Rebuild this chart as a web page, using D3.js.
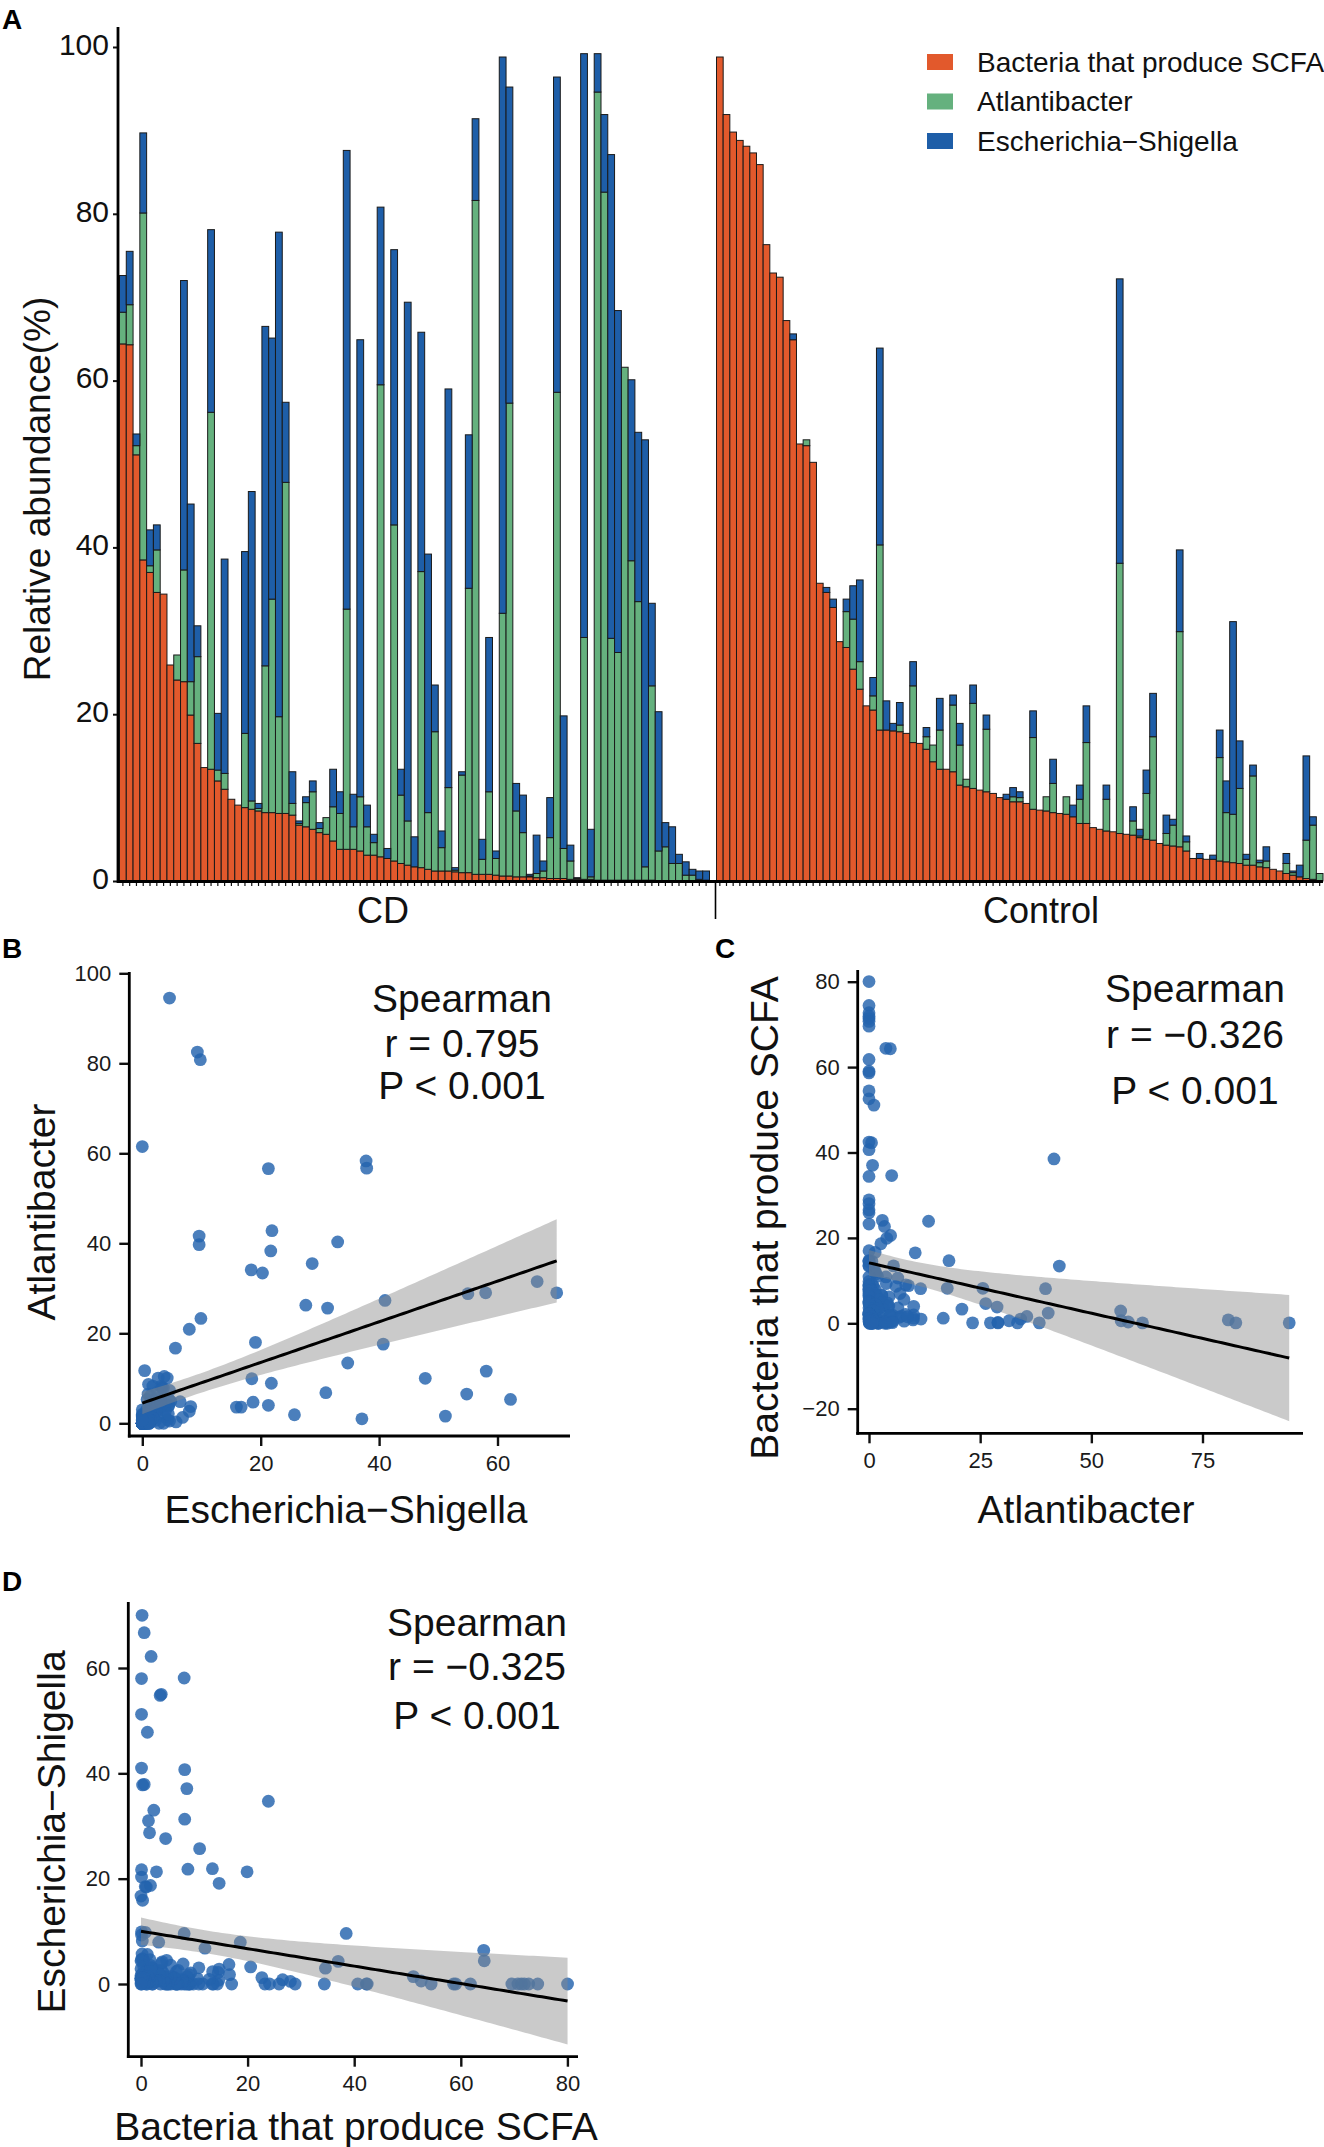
<!DOCTYPE html>
<html>
<head>
<meta charset="utf-8">
<script src="https://cdn.jsdelivr.net/npm/d3@7"></script>
<style>
  body { margin: 0; background: #fff; }
  svg { display: block; }
  text { font-family: "Liberation Sans", Arial, Helvetica, sans-serif; }
</style>
</head>
<body>
<svg id="fig" width="1324" height="2147"></svg>
<script>
// ---- data: per-sample relative abundance (%) as drawn in the stacked bars
const cdScfa = [64.4,64.3,51.1,38.5,37.0,34.6,34.4,25.9,24.1,23.9, 19.9,16.5,13.6,13.4,12.0,11.0,9.8,9.1,8.8,8.6,
  8.4,8.2,8.2,8.1,8.1,7.9,6.7,6.5,6.2,5.8, 5.6,4.8,3.8,3.8,3.8,3.6,3.1,3.1,2.9,2.7,
  2.4,2.1,1.9,1.7,1.6,1.4,1.2,1.2,1.2,1.1, 1.0,1.0,0.8,0.8,0.8,0.7,0.6,0.6,0.5,0.5,
  0.5,0.4,0.4,0.3,0.3,0.3,0.2,0.2,0.2,0.2, 0.1,0.1,0.1,0.1,0.1,0.1,0.1,0.1,0.1,0,
  0,0,0,0,0,0,0];
const cdAtl = [3.8,4.8,1.1,41.6,0.8,5.1,0,0,3.0,13.4, 4.0,10.4,0,42.8,1.3,1.9,0,0,8.9,1.0,
  0.3,17.6,25.6,11.6,39.7,1.4,0.2,2.9,4.5,0.5, 2.0,4.1,4.3,28.8,2.7,6.5,3.4,1.5,56.6,0,
  40.3,8.2,5.3,0,35.5,6.8,16.7,2.8,10.0,0.2, 11.7,34.1,80.8,1.8,9.9,2.0,31.5,56.7,7.9,5.3,
  0.1,0.5,0.8,4.9,58.3,3.6,2.2,0.1,29.0,0.3, 94.5,82.5,29.0,27.3,61.5,38.3,33.4,1.6,23.3,3.6,
  4.1,2.1,2.1,0.7,0.7,0.2,0.1];
const cdEsch = [4.4,6.4,1.4,9.6,4.3,3.0,0,0,0,34.7, 21.3,3.7,0,21.9,6.8,25.7,0,0,21.8,37.1,
  0.6,40.7,31.3,58.1,9.6,3.8,0.3,0.7,1.3,0.7, 0,4.5,2.6,55.0,3.9,54.8,2.6,1.0,21.3,1.2,
  33.0,3.1,62.2,3.6,28.7,31.0,5.6,2.0,47.8,0.3, 0.4,18.4,9.8,2.4,18.5,0.9,66.7,37.9,3.3,4.5,
  0.2,4.6,1.2,4.8,37.8,15.9,1.9,0.1,70.0,5.7, 4.6,9.3,58.0,41.0,0,21.7,20.3,51.2,9.9,16.7,
  2.9,4.4,1.1,1.6,0.7,1.0,1.1];

const ctrlScfa = [98.8,91.9,89.8,88.8,88.1,87.3,85.9,76.3,72.9,72.4, 67.2,64.9,52.4,52.2,50.2,35.7,34.6,32.8,28.7,28.0,
  25.4,23.0,21.0,20.5,18.1,18.1,18.0,17.9,17.7,16.6, 16.5,15.8,14.3,13.4,13.4,13.1,11.5,11.3,11.1,10.9,
  10.7,10.5,10.0,9.8,9.5,9.5,9.3,8.6,8.5,8.4, 8.2,8.1,8.0,7.7,6.9,6.9,6.4,6.2,6.0,5.9,
  5.7,5.6,5.5,5.2,5.0,4.9,4.5,4.3,4.2,4.1, 3.6,2.7,2.7,2.6,2.6,2.4,2.3,2.2,2.1,1.9,
  1.9,1.7,1.6,1.4,1.2,0.9,0.7,0.5,0.3,0.2, 0];
const ctrlAtl = [0,0,0,0,0,0,0,0,0,0, 0,0,0,0.7,0,0,0,0,0,4.3,
  6.0,3.3,0,1.7,22.2,0,0,0.8,0,6.8, 0,1.5,2.0,4.7,0,8.0,4.8,0.9,10.2,0,
  7.5,0,0,0,0.6,0.5,0,8.6,0,1.7, 3.5,0,2.1,0,2.9,9.7,0,0,3.8,0,
  32.4,0,1.7,0.2,5.5,12.4,0,1.4,2.5,25.8, 1.1,0,0,0,0,12.4,5.9,5.8,9.0,0.7,
  10.7,0.5,0.8,0,0,1.2,0.3,0,4.6,6.5, 0.9];
const ctrlEsch = [0,0,0,0,0,0,0,0,0,0, 0,0.7,0,0,0,0,0.6,1.0,0,1.5,
  4.0,9.8,0,2.2,23.6,3.5,0.9,2.7,0,2.9, 0,1.1,0,3.8,0,1.2,2.6,0,2.2,0,
  1.7,0,0,0.6,1.1,0.7,0,3.2,0,0, 2.9,0,0,1.4,1.7,4.4,0,0,1.7,0,
  34.1,0,1.7,0.8,2.8,5.2,0,2.2,0.7,9.8, 0.7,0,0.6,0,0.5,3.3,3.8,23.1,5.7,0.6,
  1.3,0.3,1.7,0,0,1.2,0.2,1.4,10.1,1.0, 0];

// control samples sit lower in the scatter panels than in the bars
const ctrlScatterRatio = 0.81;

const seriesKeys = ["scfa", "atl", "esch"];
const seriesNames = ["Bacteria that produce SCFA", "Atlantibacter", "Escherichia\u2212Shigella"];
const seriesColors = ["#E2592C", "#65B17E", "#1E5EA8"];
const yTicksA = [0, 20, 40, 60, 80, 100];

const statsB = ["Spearman", "r = 0.795", "P < 0.001"];
const statsC = ["Spearman", "r = \u22120.326", "P < 0.001"];
const statsD = ["Spearman", "r = \u22120.325", "P < 0.001"];

const svg = d3.select("#fig");
const color = d3.scaleOrdinal().domain(seriesKeys).range(seriesColors);

// ================= panel A : stacked bars =================
const yA = d3.scaleLinear().domain([0, 100]).range([881, 47]);

const groups = [
  { name: "CD", scfa: cdScfa, atl: cdAtl, esch: cdEsch, x0: 119.5, x1: 709.5, labelX: 383 },
  { name: "Control", scfa: ctrlScfa, atl: ctrlAtl, esch: ctrlEsch, x0: 716.5, x1: 1323, labelX: 1041 }
];

groups.forEach((g) => {
  const rows = g.scfa.map((v, i) => ({ id: g.name + i, scfa: v, atl: g.atl[i], esch: g.esch[i] }));
  const x = d3.scaleBand().domain(rows.map((d) => d.id)).range([g.x0, g.x1]);
  const stacked = d3.stack().keys(seriesKeys)(rows);

  svg.append("g")
    .selectAll("g")
    .data(stacked)
    .join("g")
    .attr("fill", (d) => color(d.key))
    .selectAll("rect")
    .data((d) => d.filter((s) => s[1] - s[0] > 0))
    .join("rect")
    .attr("x", (d) => x(d.data.id))
    .attr("width", x.bandwidth())
    .attr("y", (d) => yA(d[1]))
    .attr("height", (d) => yA(d[0]) - yA(d[1]))
    .attr("stroke", "#1a1a1a")
    .attr("stroke-width", 1);

  // one small tick under every sample
  svg.append("g")
    .attr("transform", `translate(0,${yA(0) + 1})`)
    .call(d3.axisBottom(x).tickSize(4).tickFormat(""))
    .call((a) => a.select(".domain").remove())
    .call((a) => a.selectAll("line").attr("stroke", "#111").attr("stroke-width", 1.2));

  svg.append("text")
    .attr("x", g.labelX)
    .attr("y", 923)
    .attr("text-anchor", "middle")
    .attr("font-size", 36)
    .attr("fill", "#111")
    .text(g.name);
});

// axes of panel A
svg.append("g")
  .attr("transform", "translate(118,0)")
  .call(d3.axisLeft(yA).tickValues(yTicksA).tickSize(5).tickPadding(4))
  .call((a) => a.select(".domain").remove())
  .call((a) => a.selectAll("line").attr("stroke", "#111").attr("stroke-width", 2))
  .call((a) => a.selectAll("text").attr("font-size", 30).attr("fill", "#111").attr("dy", "0.24em")
    .attr("font-family", '"Liberation Sans", Arial, sans-serif'));
svg.append("line").attr("x1", 118).attr("x2", 118).attr("y1", 27).attr("y2", 883)
  .attr("stroke", "#000").attr("stroke-width", 2.8);
svg.append("line").attr("x1", 117).attr("x2", 1323).attr("y1", 881.5).attr("y2", 881.5)
  .attr("stroke", "#000").attr("stroke-width", 2.8);
svg.append("line").attr("x1", 715.5).attr("x2", 715.5).attr("y1", 881).attr("y2", 919)
  .attr("stroke", "#000").attr("stroke-width", 1.6);

svg.append("text")
  .attr("transform", "translate(37,489) rotate(-90)")
  .attr("text-anchor", "middle")
  .attr("dominant-baseline", "central")
  .attr("font-size", 37)
  .attr("fill", "#111")
  .text("Relative abundance(%)");

// legend
const legend = svg.append("g").selectAll("g")
  .data(seriesKeys)
  .join("g")
  .attr("transform", (d, i) => `translate(927,${62 + i * 39.5})`);
legend.append("rect").attr("x", 0).attr("y", -8).attr("width", 26).attr("height", 16)
  .attr("fill", (d) => color(d));
legend.append("text").attr("x", 50).attr("y", 0).attr("dominant-baseline", "central")
  .attr("font-size", 28).attr("fill", "#111")
  .text((d, i) => seriesNames[i]);

// ================= scatter panels =================
const samples = [];
cdScfa.forEach((v, i) => samples.push({ scfa: v, atl: cdAtl[i], esch: cdEsch[i] }));
ctrlScfa.forEach((v, i) => samples.push({
  scfa: v * ctrlScatterRatio, atl: ctrlAtl[i] * ctrlScatterRatio, esch: ctrlEsch[i] * ctrlScatterRatio
}));

function lmBand(xs, ys) {
  const n = xs.length;
  const mx = d3.mean(xs), my = d3.mean(ys);
  let sxx = 0, sxy = 0;
  xs.forEach((x, i) => { sxx += (x - mx) ** 2; sxy += (x - mx) * (ys[i] - my); });
  const b = sxy / sxx, a = my - b * mx;
  let sse = 0;
  xs.forEach((x, i) => { sse += (ys[i] - a - b * x) ** 2; });
  const s = Math.sqrt(sse / (n - 2));
  const t = 1.9736;
  const [lo, hi] = d3.extent(xs);
  return d3.range(0, 101).map((k) => {
    const x = lo + (hi - lo) * k / 100;
    const fit = a + b * x;
    const se = s * Math.sqrt(1 / n + (x - mx) ** 2 / sxx);
    return { x, fit, lo: fit - t * se, hi: fit + t * se };
  });
}

function scatter(p) {
  const g = svg.append("g");
  const xs = samples.map((d) => d[p.xKey]);
  const ys = samples.map((d) => d[p.yKey]);

  g.append("g").selectAll("circle")
    .data(samples)
    .join("circle")
    .attr("cx", (d) => p.x(d[p.xKey]))
    .attr("cy", (d) => p.y(d[p.yKey]))
    .attr("r", 6.4)
    .attr("fill", "#2363AD")
    .attr("fill-opacity", 0.82);

  const band = lmBand(xs, ys);
  g.append("path")
    .datum(band)
    .attr("d", d3.area().x((d) => p.x(d.x)).y0((d) => p.y(d.lo)).y1((d) => p.y(d.hi)))
    .attr("fill", "#8a8a8a")
    .attr("fill-opacity", 0.45);
  g.append("path")
    .datum(band)
    .attr("d", d3.line().x((d) => p.x(d.x)).y((d) => p.y(d.fit)))
    .attr("fill", "none")
    .attr("stroke", "#000")
    .attr("stroke-width", 3);

  // axes
  const style = (a) => {
    a.select(".domain").remove();
    a.selectAll("line").attr("stroke", "#111").attr("stroke-width", 2.4);
    a.selectAll("text").attr("font-size", 22).attr("fill", "#1a1a1a")
      .attr("font-family", '"Liberation Sans", Arial, sans-serif');
  };
  g.append("g").attr("transform", `translate(${p.axisX},0)`)
    .call(d3.axisLeft(p.y).tickValues(p.yTicks).tickSize(10).tickPadding(8)
      .tickFormat((v) => (v < 0 ? "\u2212" + Math.abs(v) : v)))
    .call(style);
  g.append("g").attr("transform", `translate(0,${p.axisY})`)
    .call(d3.axisBottom(p.x).tickValues(p.xTicks).tickSize(10).tickPadding(9))
    .call(style);
  g.append("line").attr("x1", p.axisX).attr("x2", p.axisX).attr("y1", p.axisTop).attr("y2", p.axisY + 1.4)
    .attr("stroke", "#000").attr("stroke-width", 2.8);
  g.append("line").attr("x1", p.axisX - 1.4).attr("x2", p.axisRight).attr("y1", p.axisY).attr("y2", p.axisY)
    .attr("stroke", "#000").attr("stroke-width", 2.8);

  // titles
  g.append("text")
    .attr("transform", `translate(${p.yTitle[0]},${p.yTitle[1]}) rotate(-90)`)
    .attr("text-anchor", "middle").attr("dominant-baseline", "central")
    .attr("font-size", 39).attr("fill", "#111")
    .text(p.yLabel);
  g.append("text")
    .attr("x", p.xTitle[0]).attr("y", p.xTitle[1])
    .attr("text-anchor", "middle")
    .attr("font-size", 39).attr("fill", "#111")
    .text(p.xLabel);

  // Spearman annotation
  g.append("g").selectAll("text")
    .data(p.stats)
    .join("text")
    .attr("x", p.statX)
    .attr("y", (d, i) => p.statY[i])
    .attr("text-anchor", "middle")
    .attr("font-size", 39)
    .attr("fill", "#111")
    .text((d) => d);

  g.append("text")
    .attr("x", p.tagX).attr("y", p.tagY)
    .attr("font-size", 28).attr("font-weight", "bold").attr("fill", "#000")
    .text(p.tag);
}

scatter({
  tag: "B", tagX: 2, tagY: 958,
  xKey: "esch", yKey: "atl",
  x: d3.scaleLinear().domain([0, 60]).range([142.3, 497.5]),
  y: d3.scaleLinear().domain([0, 100]).range([1423.3, 973.3]),
  xTicks: [0, 20, 40, 60], yTicks: [0, 20, 40, 60, 80, 100],
  axisX: 129.3, axisY: 1436, axisTop: 972, axisRight: 570,
  xLabel: "Escherichia\u2212Shigella", xTitle: [346, 1523],
  yLabel: "Atlantibacter", yTitle: [41, 1212],
  stats: statsB, statX: 462, statY: [1012, 1057, 1099]
});

scatter({
  tag: "C", tagX: 715, tagY: 958,
  xKey: "atl", yKey: "scfa",
  x: d3.scaleLinear().domain([0, 75]).range([869, 1202.5]),
  y: d3.scaleLinear().domain([-20, 80]).range([1408.7, 981.7]),
  xTicks: [0, 25, 50, 75], yTicks: [-20, 0, 20, 40, 60, 80],
  axisX: 857.7, axisY: 1433.3, axisTop: 970, axisRight: 1303,
  xLabel: "Atlantibacter", xTitle: [1086, 1523],
  yLabel: "Bacteria that produce SCFA", yTitle: [764, 1218],
  stats: statsC, statX: 1195, statY: [1002, 1048, 1104]
});

scatter({
  tag: "D", tagX: 2, tagY: 1591,
  xKey: "scfa", yKey: "esch",
  x: d3.scaleLinear().domain([0, 80]).range([141, 567.4]),
  y: d3.scaleLinear().domain([0, 60]).range([1984, 1668]),
  xTicks: [0, 20, 40, 60, 80], yTicks: [0, 20, 40, 60],
  axisX: 128.3, axisY: 2056.7, axisTop: 1602, axisRight: 578,
  xLabel: "Bacteria that produce SCFA", xTitle: [356, 2140],
  yLabel: "Escherichia\u2212Shigella", yTitle: [51, 1832],
  stats: statsD, statX: 477, statY: [1636, 1680, 1729]
});

svg.append("text")
  .attr("x", 2).attr("y", 29)
  .attr("font-size", 28).attr("font-weight", "bold").attr("fill", "#000")
  .text("A");
</script>
</body>
</html>
